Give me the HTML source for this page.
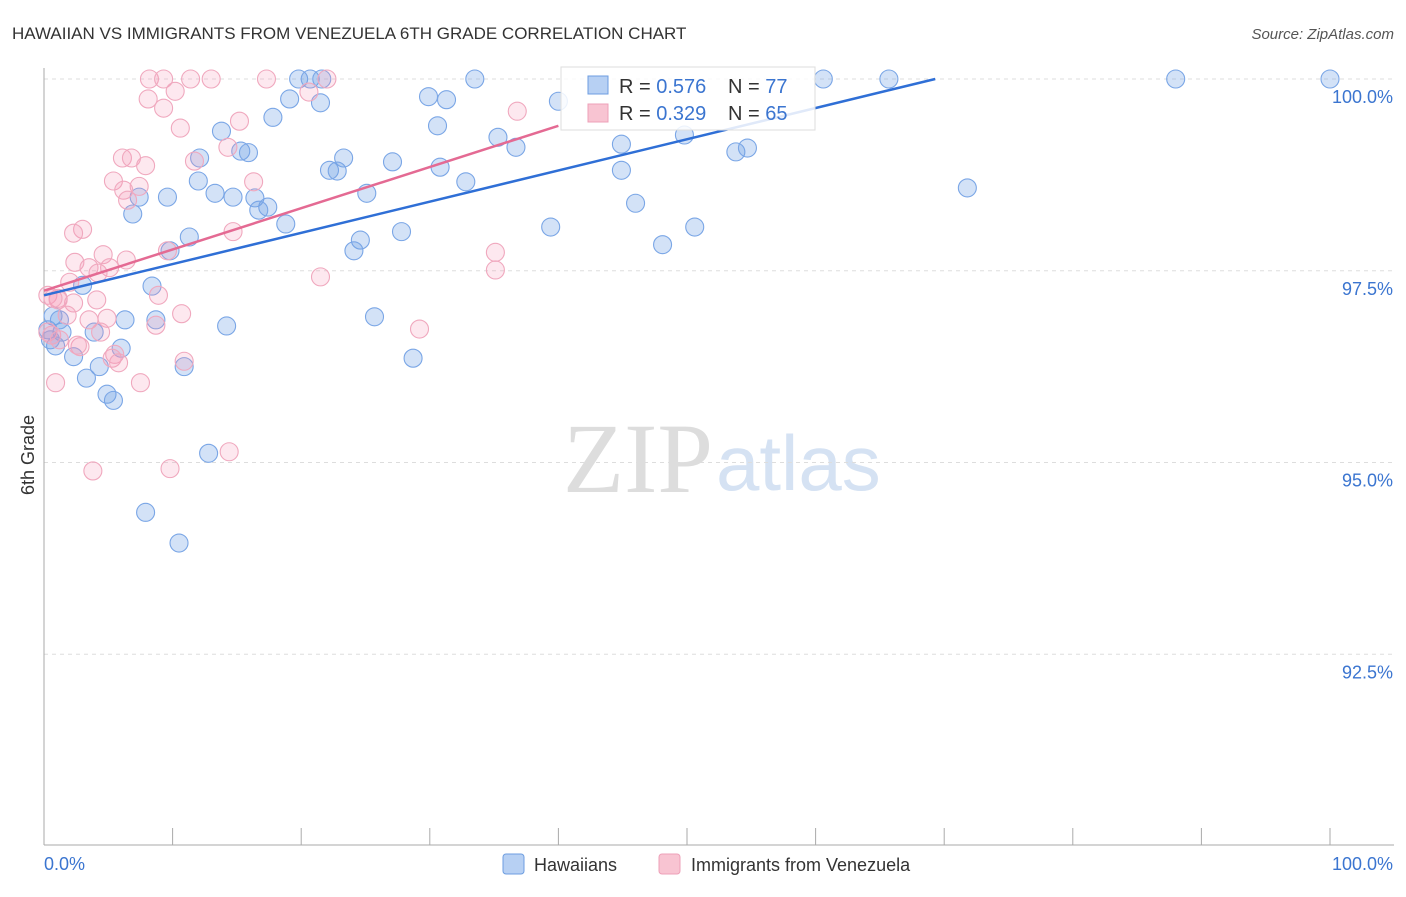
<!DOCTYPE html>
<html><head><meta charset="utf-8"><style>
body{margin:0;background:#fff;font-family:"Liberation Sans",sans-serif}
svg text{font-family:"Liberation Sans",sans-serif}
</style></head><body>
<svg id="c" width="1406" height="892">
<text x="12" y="39" font-size="17" fill="#333">HAWAIIAN VS IMMIGRANTS FROM VENEZUELA 6TH GRADE CORRELATION CHART</text>
<text x="1394" y="39" font-size="15" fill="#555" font-style="italic" text-anchor="end">Source: ZipAtlas.com</text>
<g>
<text x="713" y="492" font-size="100" fill="#ddd" text-anchor="end" style="font-family:'Liberation Serif',serif">ZIP</text>
<text x="716" y="490" font-size="78" fill="#d5e2f3">atlas</text>
</g>
<g id="grid"></g><g id="axes"></g><g id="pts"></g><g id="trend"></g>
<text transform="translate(34,455) rotate(-90)" font-size="18" fill="#333" text-anchor="middle">6th Grade</text>
<g>
<rect x="561" y="67" width="254" height="63" fill="#fff" fill-opacity="0.85" stroke="#ddd"/>
<rect x="588" y="76" width="20" height="18" fill="#b7d0f3" stroke="#6d9de0"/>
<rect x="588" y="104" width="20" height="18" fill="#f8c4d2" stroke="#eea0b8"/>
<text x="619" y="93" font-size="20" fill="#333">R = <tspan fill="#3b75d0">0.576</tspan><tspan x="728">N = </tspan><tspan fill="#3b75d0">77</tspan></text>
<text x="619" y="120" font-size="20" fill="#333">R = <tspan fill="#3b75d0">0.329</tspan><tspan x="728">N = </tspan><tspan fill="#3b75d0">65</tspan></text>
</g>
<g>
<rect x="503" y="854" width="21" height="20" rx="3" fill="#b7d0f3" stroke="#6d9de0"/>
<text x="534" y="871" font-size="18" fill="#333">Hawaiians</text>
<rect x="659" y="854" width="21" height="20" rx="3" fill="#f8c4d2" stroke="#eea0b8"/>
<text x="691" y="871" font-size="18" fill="#333">Immigrants from Venezuela</text>
</g>
</svg>
<script>
const blueX=[19.8,20.7,21.6,33.5,60.6,65.7,88.0,100,19.1,21.5,29.9,31.3,40.0,17.8,13.8,30.6,35.3,36.7,44.9,49.8,53.8,54.7,12.1,15.3,15.9,23.3,27.1,30.8,22.2,22.8,44.9,12.0,32.8,13.3,14.7,9.6,7.4,16.4,25.1,17.4,16.7,6.9,46.0,71.8,18.8,27.8,39.4,50.6,11.3,24.6,24.1,9.8,48.1,3.0,8.4,0.7,6.3,8.7,14.2,25.7,1.4,3.9,0.3,0.9,6.0,2.3,28.7,4.3,10.9,3.3,4.9,5.4,12.8,7.9,10.5,1.2,0.5];
const blueY=[100,100,100,100,100,100,100,100,99.74,99.69,99.77,99.73,99.71,99.50,99.32,99.39,99.24,99.11,99.15,99.27,99.05,99.10,98.97,99.06,99.04,98.97,98.92,98.85,98.81,98.80,98.81,98.67,98.66,98.51,98.46,98.46,98.46,98.45,98.51,98.33,98.29,98.24,98.38,98.58,98.11,98.01,98.07,98.07,97.94,97.90,97.76,97.76,97.84,97.31,97.30,96.91,96.86,96.86,96.78,96.90,96.70,96.70,96.73,96.52,96.49,96.38,96.36,96.25,96.25,96.10,95.89,95.81,95.12,94.35,93.95,96.86,96.60];
const pinkX=[8.2,9.3,11.4,13.0,17.3,22.0,8.1,10.2,9.3,10.6,20.6,15.2,36.8,11.7,6.1,6.8,7.9,5.4,7.4,6.2,6.5,14.3,16.3,3.0,2.3,14.7,4.6,2.4,3.5,5.1,4.2,6.4,2.0,9.6,35.1,21.5,35.1,0.3,1.1,2.3,4.1,8.9,1.8,3.5,4.9,10.7,8.7,29.2,0.3,4.4,0.6,1.2,2.8,5.5,5.3,5.8,10.9,0.9,7.5,3.8,9.8,14.4,1.1,0.7,2.6];
const pinkY=[100,100,100,100,100,100,99.74,99.84,99.62,99.36,99.83,99.45,99.58,98.93,98.97,98.97,98.87,98.67,98.60,98.55,98.42,99.11,98.66,98.04,97.99,98.01,97.71,97.61,97.54,97.54,97.47,97.64,97.35,97.76,97.74,97.42,97.51,97.18,97.14,97.08,97.12,97.18,96.92,96.86,96.88,96.94,96.79,96.74,96.70,96.70,96.66,96.60,96.51,96.41,96.36,96.30,96.32,96.04,96.04,94.89,94.92,95.14,97.12,97.14,96.53];
const blueTrendX=[0,69.3], blueTrendY=[97.18,100];
const pinkTrendX=[0,40], pinkTrendY=[97.24,99.39];
const yTicks=[100,97.5,95,92.5];
const yTickLabels=["100.0%","97.5%","95.0%","92.5%"];
const xTicks=[0,10,20,30,40,50,60,70,80,90,100];
const NS="http://www.w3.org/2000/svg";
const sx=v=>44+v*12.86, sy=v=>79+(100-v)*76.7;
function mk(t,a,p){const e=document.createElementNS(NS,t);for(const k in a)e.setAttribute(k,a[k]);p.appendChild(e);return e;}
const grid=document.getElementById('grid'),axes=document.getElementById('axes'),pts=document.getElementById('pts'),tr=document.getElementById('trend');
yTicks.forEach((v,i)=>{
 const l=mk('line',{x1:44,x2:1394,y1:sy(v),y2:sy(v),stroke:'#ddd','stroke-dasharray':'4,4'},grid);
 
 
 const t=mk('text',{x:1393,y:sy(v)+24,'font-size':18,fill:'#3b75d0','text-anchor':'end'},axes);
 t.textContent=yTickLabels[i];
 
 
});
const ax=mk('line',{x1:44,x2:44,y1:68,y2:845,stroke:'#aaa'},axes);


const bx=mk('line',{x1:44,x2:1394,y1:845,y2:845,stroke:'#aaa'},axes);


xTicks.forEach(v=>{const t=mk('line',{x1:sx(v),x2:sx(v),y1:828,y2:845,stroke:'#aaa'},axes);
 
 });
[["0.0%",44,'start'],["100.0%",1393,'end']].forEach(([s,x,a])=>{const t=mk('text',{x:x,y:870,'font-size':18,fill:'#3b75d0','text-anchor':a},axes);t.textContent=s;
 
 });
blueX.forEach((v,i)=>{const c=mk('circle',{cx:sx(v),cy:sy(blueY[i]),r:9,fill:'rgba(110,160,230,0.3)',stroke:'#7aa6e6','stroke-width':1.1},pts);
 
 });
pinkX.forEach((v,i)=>{const c=mk('circle',{cx:sx(v),cy:sy(pinkY[i]),r:9,fill:'rgba(245,150,180,0.22)',stroke:'#f0a8be','stroke-width':1.1},pts);
 
 });
const b=mk('line',{x1:sx(blueTrendX[0]),y1:sy(blueTrendY[0]),x2:sx(blueTrendX[1]),y2:sy(blueTrendY[1]),stroke:'#2f6fd6','stroke-width':2.5},tr);


const p=mk('line',{x1:sx(pinkTrendX[0]),y1:sy(pinkTrendY[0]),x2:sx(pinkTrendX[1]),y2:sy(pinkTrendY[1]),stroke:'#e46a93','stroke-width':2.5},tr);


</script>
</body></html>
